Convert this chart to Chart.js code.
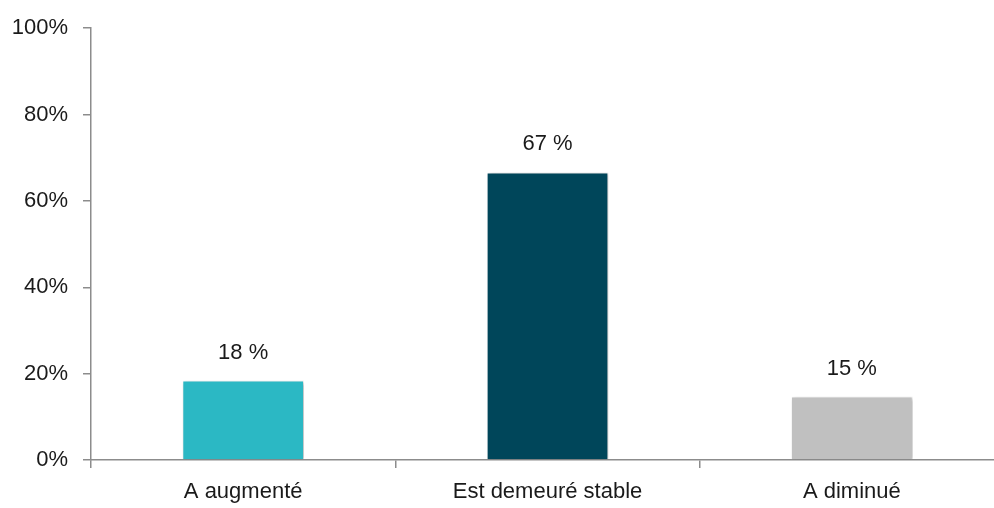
<!DOCTYPE html>
<html>
<head>
<meta charset="utf-8">
<script src="https://cdn.jsdelivr.net/npm/chart.js@4"></script>
<style>
  html, body { margin: 0; padding: 0; background: #fff; overflow: hidden; }
  #wrap { width: 1004px; height: 508px; }
</style>
</head>
<body>
<div id="wrap"><canvas id="myChart"></canvas></div>
<script>
// data
var categories = ["A augmenté", "Est demeuré stable", "A diminué"];
var values = [18.4, 66.6, 14.7];
var valueLabels = ["18 %", "67 %", "15 %"];
var barColors = ["#2bb8c4", "#00465a", "#c0c0c0"];
var yTicks = [0, 20, 40, 60, 80, 100];

var fontFamily = "'Liberation Sans Narrow', 'Arial Narrow', 'Liberation Sans', sans-serif";
var fontSize = 22;

// soft shadow under the bars
var shadowPlugin = {
    id: "barShadow",
    beforeDatasetsDraw: function (chart) {
        var ctx = chart.ctx;
        ctx.save();
        ctx.shadowColor = "rgba(0,0,0,0.28)";
        ctx.shadowBlur = 4;
        ctx.shadowOffsetX = 2;
        ctx.shadowOffsetY = 1;
    },
    afterDatasetsDraw: function (chart) {
        chart.ctx.restore();
    }
};

// value labels above bars
var dataLabelPlugin = {
    id: "dataLabels",
    afterDatasetsDraw: function (chart) {
        var ctx = chart.ctx;
        var meta = chart.getDatasetMeta(0);
        ctx.save();
        ctx.fillStyle = "#1a1a1a";
        ctx.font = fontSize + "px " + fontFamily;
        ctx.textAlign = "center";
        ctx.textBaseline = "middle";
        meta.data.forEach(function (bar, i) {
            ctx.fillText(valueLabels[i], bar.x, bar.y - 28);
        });
        ctx.restore();
    }
};

var chart = new Chart("myChart", {
    type: "bar",
    data: {
        labels: categories,
        datasets: [{
            data: values,
            backgroundColor: barColors,
            borderColor: "rgba(255,255,255,0.7)",
            borderWidth: 1,
            barPercentage: 0.4,
            categoryPercentage: 1.0
        }]
    },
    options: {
        responsive: true,
        maintainAspectRatio: false,
        animation: false,
        layout: { padding: { top: 26, right: 0, left: 0, bottom: 0 } },
        plugins: {
            legend: { display: false },
            tooltip: { enabled: false }
        },
        scales: {
            x: {
                afterFit: function (scale) { scale.height = 48; },
                grid: {
                    offset: true,
                    drawOnChartArea: false,
                    tickLength: 8,
                    color: "#8c8c8c",
                    lineWidth: 1.5
                },
                border: { color: "#8c8c8c", width: 1.5 },
                ticks: {
                    color: "#1a1a1a",
                    font: { family: fontFamily, size: fontSize },
                    padding: 11
                }
            },
            y: {
                min: 0,
                max: 100,
                afterFit: function (scale) { scale.width = 91; },
                afterBuildTicks: function (scale) {
                    scale.ticks = yTicks.map(function (v) { return { value: v }; });
                },
                grid: {
                    drawOnChartArea: false,
                    tickLength: 8,
                    color: "#8c8c8c",
                    lineWidth: 1.5
                },
                border: { color: "#8c8c8c", width: 1.5 },
                ticks: {
                    color: "#1a1a1a",
                    font: { family: fontFamily, size: fontSize },
                    padding: 15,
                    callback: function (v) { return v + "%"; }
                }
            }
        }
    },
    plugins: [shadowPlugin, dataLabelPlugin]
});
</script>
</body>
</html>
